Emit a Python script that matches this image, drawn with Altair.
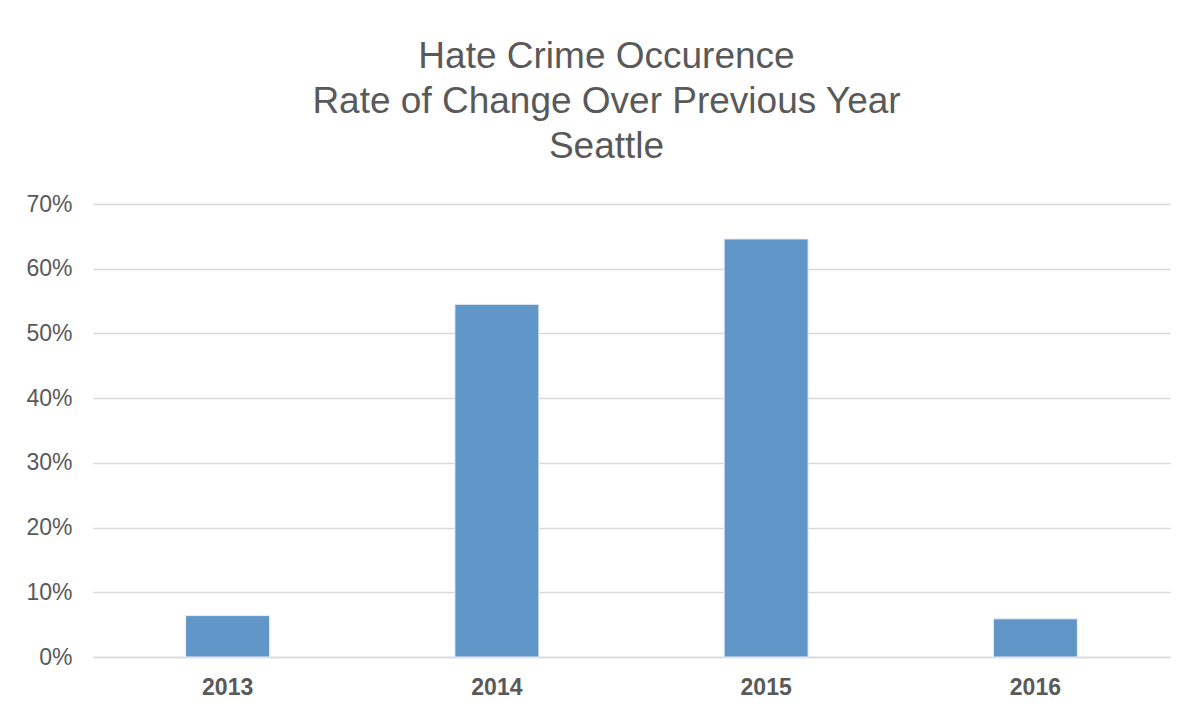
import altair as alt
import pandas as pd

years = ["2013", "2014", "2015", "2016"]
rates = [0.064, 0.545, 0.646, 0.059]
title_lines = ["Hate Crime Occurence", "Rate of Change Over Previous Year", "Seattle"]
y_ticks = [0.0, 0.1, 0.2, 0.3, 0.4, 0.5, 0.6, 0.7]

df = pd.DataFrame({"year": years, "rate": rates})

chart = alt.Chart(df).mark_bar(
    color="#6196C8", stroke="#EAF1F8", strokeWidth=1
).encode(
    x=alt.X("year:N", title=None, sort=years,
            scale=alt.Scale(paddingInner=0.688, paddingOuter=0.344),
            axis=alt.Axis(labelAngle=0, labelFont="Liberation Sans", labelFontSize=23,
                          labelFontWeight="bold", labelColor="#595959", labelPadding=19,
                          ticks=False, domain=True, domainColor="#D9D9D9", domainWidth=1.5,
                          grid=False)),
    y=alt.Y("rate:Q", title=None,
            scale=alt.Scale(domain=[0, 0.7], nice=False),
            axis=alt.Axis(values=y_ticks, format=".0%", labelFont="Liberation Sans",
                          labelFontSize=23, labelColor="#595959", labelPadding=21,
                          ticks=False, domain=False, gridColor="#D9D9D9", gridWidth=1.5)),
).properties(
    width=1077,
    height=453,
    title=alt.TitleParams(
        text=title_lines, font="Liberation Sans", fontSize=37, fontWeight="normal",
        color="#595959", lineHeight=45, anchor="middle", dx=-25, offset=27,
    ),
    autosize=alt.AutoSizeParams(type="none"),
    padding={"left": 85, "top": 196, "right": 5, "bottom": 55},
).configure(background="white").configure_view(stroke=None, strokeWidth=0)

chart.save("out.html", embed_options={"renderer": "svg", "actions": False})
